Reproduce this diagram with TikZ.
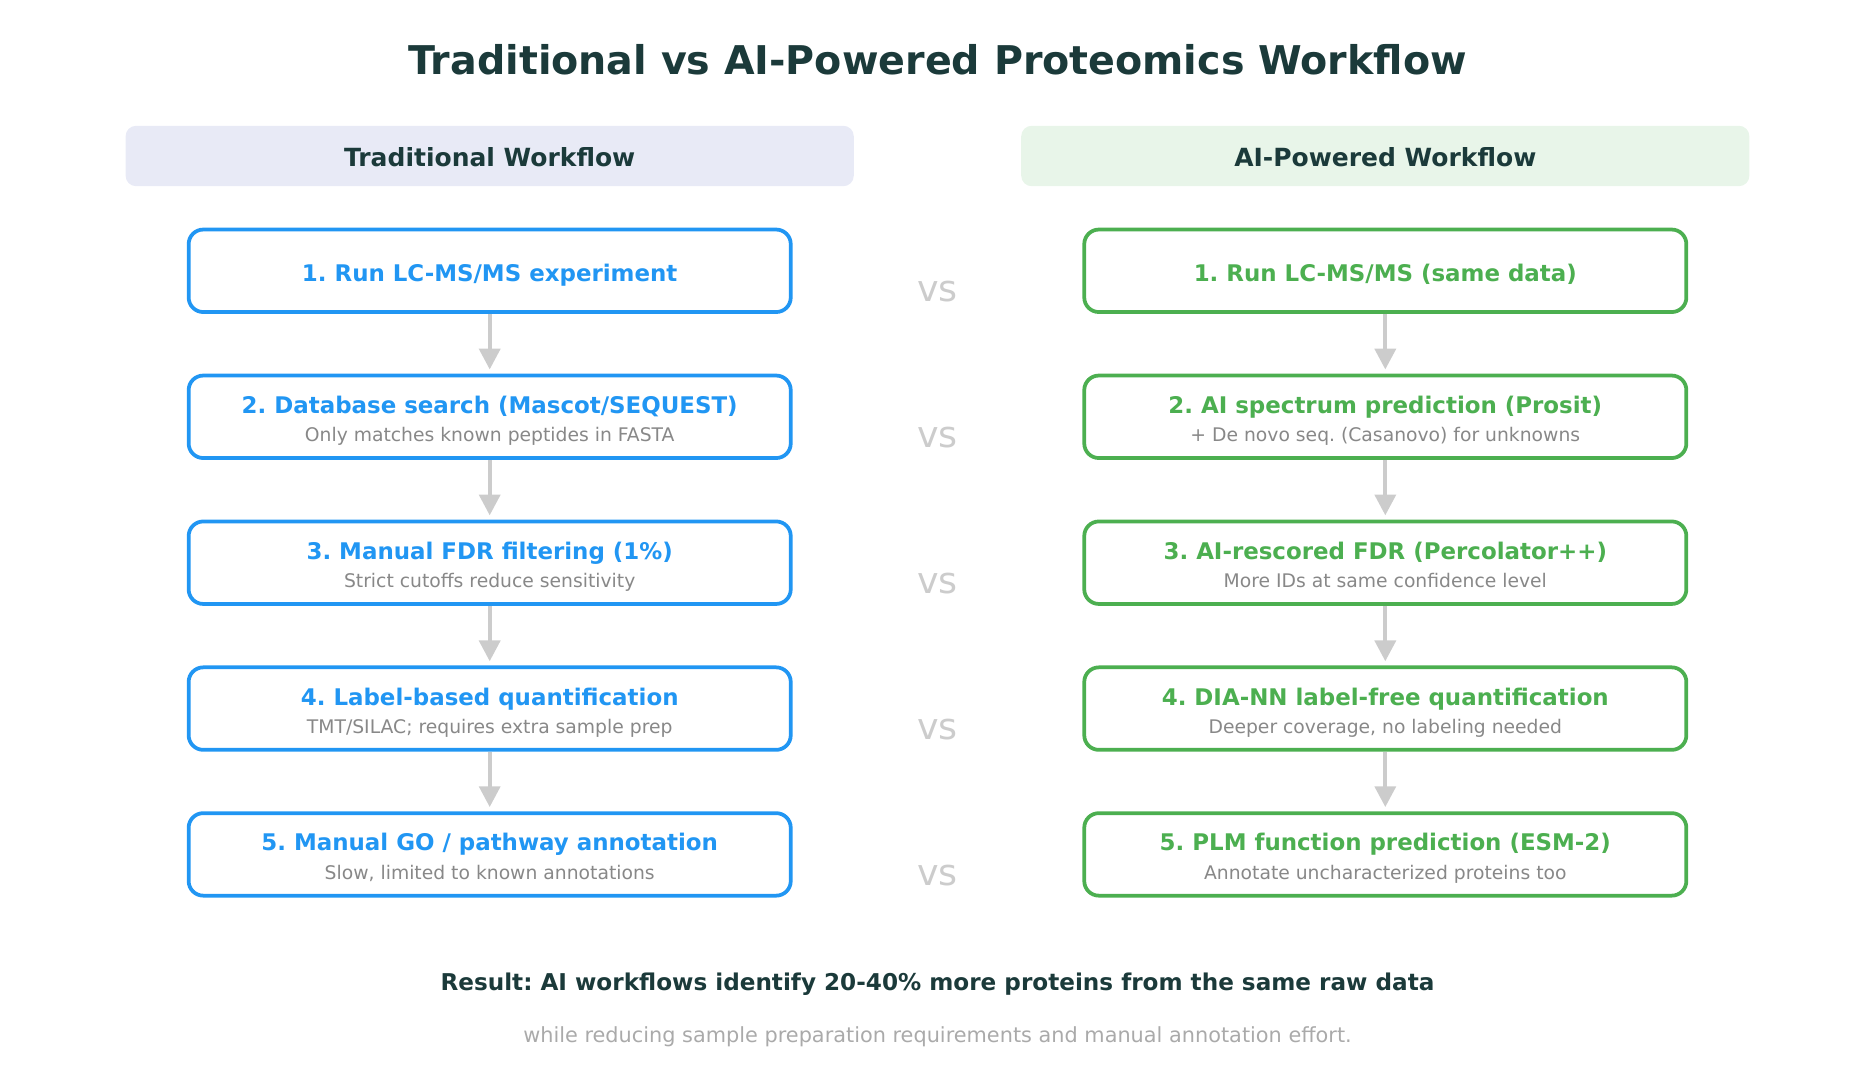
\documentclass[tikz,border=0pt]{standalone}
\usepackage{fontspec}
\setmainfont{DejaVu Sans}
\usetikzlibrary{arrows.meta, positioning}
\frenchspacing

\definecolor{darkteal}{HTML}{1B3A3A}
\definecolor{tradblue}{HTML}{2196F3}
\definecolor{aigreen}{HTML}{4CAF50}
\definecolor{tradbg}{HTML}{E8EAF6}
\definecolor{aibg}{HTML}{E8F5E9}
\definecolor{subgray}{HTML}{888888}
\definecolor{lightgray}{HTML}{CCCCCC}
\definecolor{notegray}{HTML}{AAAAAA}

% step text: bold line, optional grey line, set a little low in the box
\newcommand{\steptext}[2]{\raisebox{-2.5pt}[\height][\depth]{\begin{tabular}{@{}c@{}}#1\ifx\relax#2\relax\else\\[0.5pt]{\mdseries\color{subgray}\fontsize{9}{11}\selectfont #2}\fi\end{tabular}}}

\begin{document}
\begin{tikzpicture}[x=0.48pt,y=-0.48pt,
    header/.style={rounded corners=5pt,minimum width=349.5pt,minimum height=29pt,font=\bfseries\fontsize{12}{14}\selectfont,text=darkteal},
    trad node/.style={draw=tradblue,line width=1.8pt,rounded corners=7pt,fill=white,minimum width=289pt,minimum height=39.6pt,text=tradblue,font=\bfseries\fontsize{11}{13}\selectfont},
    ai node/.style={trad node,draw=aigreen,text=aigreen},
    vs/.style={text=lightgray,font=\fontsize{17.5}{20}\selectfont},
    flow/.style={-{Triangle[width=10pt,length=10pt]},draw=lightgray,fill=lightgray,line width=2pt,shorten >=2pt}]

\useasboundingbox (0,0) rectangle (1875,1083);

\node[text=darkteal,font=\bfseries\fontsize{19}{23}\selectfont] (title) at (937.5,60) {Traditional vs AI-Powered Proteomics Workflow};

\node[header,fill=tradbg] (trad head) at (489.7,156) {\raisebox{-0.7pt}[\height][\depth]{Traditional Workflow}};
\node[header,fill=aibg] (ai head) at (1385.3,156) {\raisebox{-0.7pt}[\height][\depth]{AI-Powered Workflow}};

% traditional column
\node[trad node] (t1) at (489.7,270.8) {\steptext{1. Run LC-MS/MS experiment}{}};
\node[trad node] (t2) at (489.7,416.8) {\steptext{2. Database search (Mascot/SEQUEST)}{Only matches known peptides in FASTA}};
\node[trad node] (t3) at (489.7,562.7) {\steptext{3. Manual FDR filtering (1\%)}{Strict cutoffs reduce sensitivity}};
\node[trad node] (t4) at (489.7,708.6) {\steptext{4. Label-based quantification}{TMT/SILAC; requires extra sample prep}};
\node[trad node] (t5) at (489.7,854.4) {\steptext{5. Manual GO / pathway annotation}{Slow, limited to known annotations}};

% AI column
\node[ai node] (a1) at (1385.3,270.8) {\steptext{1. Run LC-MS/MS (same data)}{}};
\node[ai node] (a2) at (1385.3,416.8) {\steptext{2. AI spectrum prediction (Prosit)}{+ De novo seq. (Casanovo) for unknowns}};
\node[ai node] (a3) at (1385.3,562.7) {\steptext{3. AI-rescored FDR (Percolator++)}{More IDs at same confidence level}};
\node[ai node] (a4) at (1385.3,708.6) {\steptext{4. DIA-NN label-free quantification}{Deeper coverage, no labeling needed}};
\node[ai node] (a5) at (1385.3,854.4) {\steptext{5. PLM function prediction (ESM-2)}{Annotate uncharacterized proteins too}};

% vs marks
\foreach \i/\yy in {1/291.8,2/437.7,3/583.5,4/729.4,5/875.3}
    \node[vs] (vs\i) at (937.5,\yy) {vs};

\foreach \a/\b in {1/2,2/3,3/4,4/5} {
    \draw[flow] (t\a.south) -- (t\b.north);
    \draw[flow] (a\a.south) -- (a\b.north);
}

\node[text=darkteal,font=\bfseries\fontsize{11.1}{14}\selectfont] (result) at (937.5,984) {Result: AI workflows identify 20-40\% more proteins from the same raw data};
\node[text=notegray,font=\fontsize{10}{13}\selectfont] (note) at (937.5,1037) {while reducing sample preparation requirements and manual annotation effort.};

\end{tikzpicture}
\end{document}
